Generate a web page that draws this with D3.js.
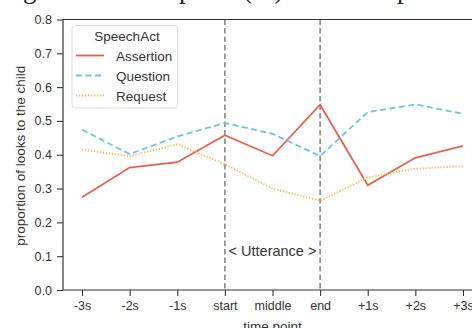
<!DOCTYPE html>
<html><head><meta charset="utf-8">
<script src="https://cdn.jsdelivr.net/npm/d3@7"></script>
<style>body{margin:0;background:#fff;}svg{display:block;}</style>
</head><body>
<script>
const categories = ["-3s","-2s","-1s","start","middle","end","+1s","+2s","+3s"];
const assertion = [0.274,0.362,0.378,0.458,0.397,0.548,0.310,0.391,0.426];
const question  = [0.474,0.402,0.454,0.494,0.462,0.396,0.526,0.549,0.521];
const request   = [0.415,0.396,0.431,0.372,0.300,0.264,0.333,0.359,0.366];
const yTicks = [0.0,0.1,0.2,0.3,0.4,0.5,0.6,0.7,0.8];
const seriesNames = ["Assertion","Question","Request"];
const markers = ["start","end"];

(function(){
const W=472,H=328;
const svg=d3.select("body").append("svg").attr("width",W).attr("height",H);
const font="Liberation Sans, Arial, sans-serif";
const pL=63, pR=482, pT=19.5, pB=290;
const x=d3.scalePoint().domain(categories).range([pL,pR]).padding(0.4);
const y=d3.scaleLinear().domain([0,0.8]).range([pB,pT]);

// caption fragments (cut off at top, as in the reference)
const cap=svg.append("g").attr("font-family","Liberation Serif, Times New Roman, serif").attr("font-size",27).attr("fill","#222");
[["g",23],["p",179],["(%)",243],["p",397]].forEach(([t,px])=>cap.append("text").attr("x",px).attr("y",-2).text(t));

const colors={Assertion:"#e8604c",Question:"#6cc0ec",Request:"#f6b53f"};
const dashes={Assertion:null,Question:"6,3.5",Request:"1.2,1.8"};
const data={Assertion:assertion,Question:question,Request:request};

markers.forEach(m=>{
  svg.append("line").attr("x1",x(m)).attr("x2",x(m)).attr("y1",pT).attr("y2",pB)
    .attr("stroke","#888").attr("stroke-width",1.6).attr("stroke-dasharray","5.5,3");
});
svg.append("text").attr("x",(x("start")+x("end"))/2).attr("y",256).attr("text-anchor","middle")
  .attr("font-family",font).attr("font-size",14.5).attr("fill","#333").text("< Utterance >");

const line=d3.line().x((d,i)=>x(categories[i])).y(d=>y(d));
seriesNames.forEach(s=>{
  svg.append("path").datum(data[s]).attr("d",line).attr("fill","none")
    .attr("stroke",colors[s]).attr("stroke-width",1.8)
    .attr("stroke-dasharray",dashes[s]);
});

const ax=svg.append("g").attr("transform",`translate(0,${pB})`)
  .call(d3.axisBottom(x).tickSize(6).tickPadding(5));
const ay=svg.append("g").attr("transform",`translate(${pL},0)`)
  .call(d3.axisLeft(y).tickValues(yTicks).tickFormat(d3.format(".1f")).tickSize(6).tickPadding(5));
[ax,ay].forEach(g=>{
  g.selectAll("text").attr("font-family",font).attr("font-size",12.5).attr("fill","#333");
  g.selectAll("line").attr("stroke","#333").attr("stroke-width",1.1);
  g.select(".domain").remove();
});
svg.append("line").attr("x1",pL).attr("x2",W).attr("y1",pB).attr("y2",pB).attr("stroke","#333").attr("stroke-width",1.2);
svg.append("line").attr("x1",pL).attr("x2",W).attr("y1",pT).attr("y2",pT).attr("stroke","#333").attr("stroke-width",1.2);
svg.append("line").attr("x1",pL).attr("x2",pL).attr("y1",pT).attr("y2",pB).attr("stroke","#333").attr("stroke-width",1.2);

svg.append("text").attr("x",(pL+pR)/2).attr("y",331).attr("text-anchor","middle")
  .attr("font-family",font).attr("font-size",13.5).attr("fill","#333").text("time point");
svg.append("text").attr("transform",`translate(25,${(pT+pB)/2+1}) rotate(-90)`).attr("text-anchor","middle")
  .attr("font-family",font).attr("font-size",13.5).attr("fill","#333").text("proportion of looks to the child");

const lg=svg.append("g");
lg.append("rect").attr("x",72).attr("y",25.5).attr("width",105.5).attr("height",82.5).attr("rx",3)
  .attr("fill","#fff").attr("fill-opacity",0.85).attr("stroke","#ddd").attr("stroke-width",1);
lg.append("text").attr("x",127).attr("y",41).attr("text-anchor","middle").attr("font-family",font)
  .attr("font-size",13.5).attr("fill","#333").text("SpeechAct");
seriesNames.forEach((s,i)=>{
  const yy=55.5+i*20;
  lg.append("line").attr("x1",76).attr("x2",104).attr("y1",yy).attr("y2",yy)
    .attr("stroke",colors[s]).attr("stroke-width",1.8).attr("stroke-dasharray",dashes[s]);
  lg.append("text").attr("x",116).attr("y",yy+5).attr("font-family",font).attr("font-size",13.5)
    .attr("fill","#333").text(s);
});
})();
</script>
</body></html>
